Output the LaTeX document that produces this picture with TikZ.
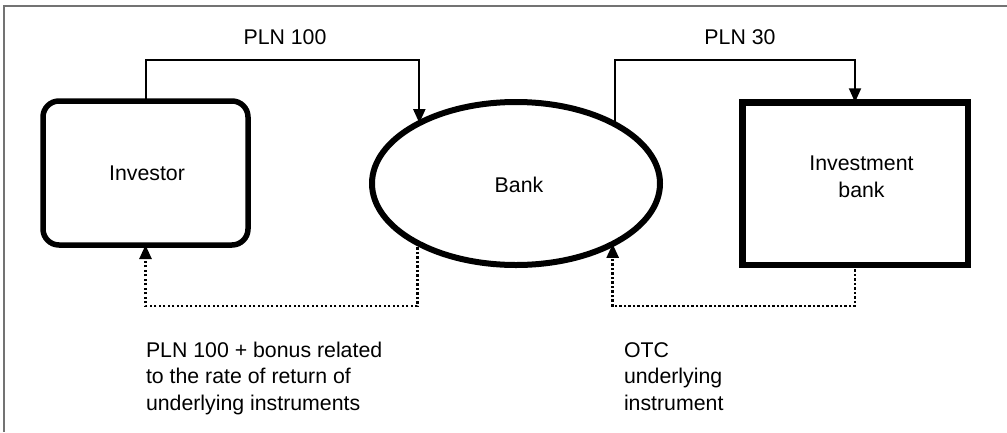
\documentclass[tikz,border=0pt]{standalone}
\usepackage{fontspec}
\setmainfont{Liberation Sans}
\usetikzlibrary{arrows.meta,shapes.geometric}

\begin{document}
\begin{tikzpicture}[x=1pt,y=-1pt,
  every node/.style={inner sep=0pt,outer sep=0pt},
  lbl/.style={font=\fontsize{21.3}{26.5}\selectfont},
  flow/.style={draw=black,line width=2pt,
    -{Triangle[length=14pt,width=12pt]}},
  backflow/.style={flow,line width=2.6pt,dash pattern=on 2.4pt off 2.1pt}
]
\useasboundingbox (0,0) rectangle (1007,432);

% frame lines along the top and left edges
\draw[black!55,line width=1.8pt] (1006.5,5.7) -- (3.7,5.7) -- (3.7,432);

% the three parties
\node[draw,line width=5.5pt,rounded corners=16pt,minimum width=205pt,
      minimum height=144pt] (inv) at (145.5,173) {};
\node[draw,ellipse,line width=6pt,minimum width=288pt,
      minimum height=163pt] (bank) at (516,183.5) {};
\node[draw,line width=6.5pt,minimum width=225.5pt,
      minimum height=162.5pt] (ib) at (855,183.5) {};

% multi-line nodes sit on the baseline of their last line
\node[lbl,anchor=base] (invt) at (147,180) {Investor};
\node[lbl,anchor=base] (bankt) at (519,192) {Bank};
\node[lbl,anchor=base,align=center] (ibt) at (861.5,197) {Investment\\bank};

% routing levels of the connectors
\coordinate (top) at (0,60);
\coordinate (bot) at (0,306);

% payments
\draw[flow] (inv.north) -- (inv.north |- top) -| (bank.148.7);
\draw[flow] (bank.31.3) -- (bank.31.3 |- top) -| (ib.north);

% returns
\draw[backflow] (bank.211.3) -- (bank.211.3 |- bot) -| (inv.south);
\draw[backflow] (ib.south) -- (ib.south |- bot) -| (bank.328.7);

% connector labels
\node[lbl,anchor=base] (l1) at (285,44) {PLN 100};
\node[lbl,anchor=base] (l2) at (740,44) {PLN 30};
\node[lbl,anchor=base west,align=left] (l3) at (146,410)
  {PLN 100 + bonus related\\to the rate of return of\\underlying instruments};
\node[lbl,anchor=base west,align=left] (l4) at (624,410)
  {OTC\\underlying\\instrument};
\end{tikzpicture}
\end{document}
